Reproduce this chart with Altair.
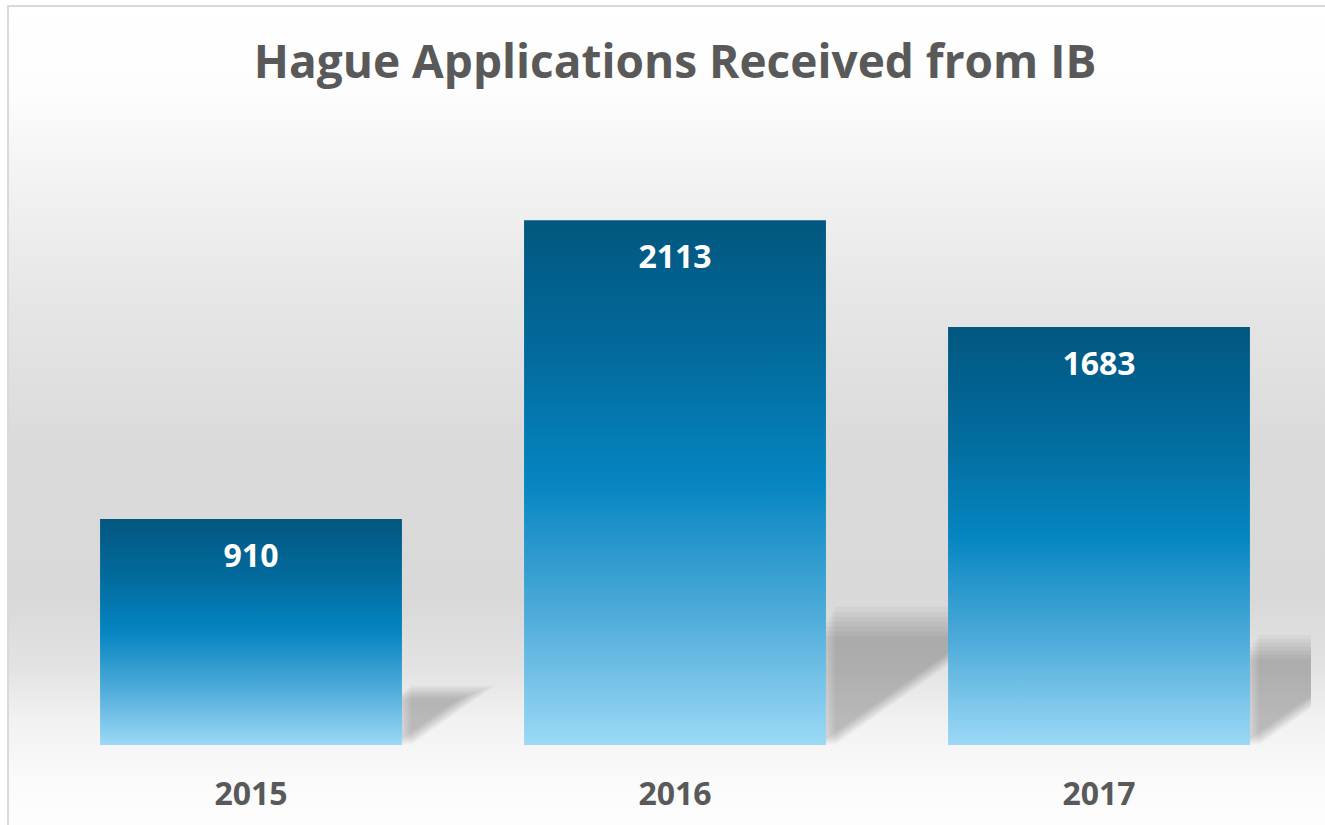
import altair as alt
import pandas as pd

# ---- data ----
years = ["2015", "2016", "2017"]
applications = [910, 2113, 1683]
title_text = "Hague Applications Received from IB"

# ---- layout constants ----
W, H = 1272, 621
YMAX = 2500
BAR_FRAC = 0.712          # bar width as a fraction of each category slot
FONT = "Open Sans"
GREY = "#595959"

bars_df = pd.DataFrame({"year": years, "apps": applications, "idx": list(range(len(years)))})

# perspective shadow geometry, derived from each bar's value (layers soften the edge)
SH = 0.235      # shadow height as a fraction of bar height
SKEW = 1.42     # horizontal run per vertical px
BLUR_K = [0.88, 0.92, 0.96, 1.0, 1.04, 1.08, 1.12]
step_px = W / len(years)
px_per_unit = H / YMAX
rows = []
for layer_k, k in enumerate(BLUR_K):
    for i, (yr, v) in enumerate(zip(years, applications)):
        right = i + 0.5 + BAR_FRAC / 2 + (k - 1) * 70 / step_px
        s = SH * v * k
        d = SKEW * SH * v * px_per_unit / step_px * k
        grp = f"{yr}_{layer_k}"
        rows.append({"grp": grp, "x": right, "lo": 0.0, "hi": s})
        rows.append({"grp": grp, "x": right + d, "lo": s, "hi": s})
shadow_df = pd.DataFrame(rows)

xscale = alt.Scale(domain=[0, len(years)], nice=False, zero=False)
yscale = alt.Scale(domain=[0, YMAX], nice=False, zero=True)

bg_grad = alt.Gradient(
    gradient="linear", x1=0, x2=0, y1=0, y2=1,
    stops=[
        alt.GradientStop(offset=0.0, color="#ffffff"),
        alt.GradientStop(offset=0.10, color="#fdfdfd"),
        alt.GradientStop(offset=0.18, color="#f5f5f5"),
        alt.GradientStop(offset=0.35, color="#e6e6e6"),
        alt.GradientStop(offset=0.53, color="#dadada"),
        alt.GradientStop(offset=0.71, color="#d9d9d9"),
        alt.GradientStop(offset=0.79, color="#e3e3e3"),
        alt.GradientStop(offset=0.85, color="#f1f1f1"),
        alt.GradientStop(offset=0.92, color="#fafafa"),
        alt.GradientStop(offset=1.0, color="#ffffff"),
    ],
)

background = alt.Chart(pd.DataFrame({"a": [0]})).mark_rect(
    fill=bg_grad, stroke="#d9d9d9", strokeWidth=2
).encode(
    x=alt.value(-31), x2=alt.value(1300), y=alt.value(-118), y2=alt.value(720)
)

shadows = alt.Chart(shadow_df).mark_area(
    color="#000000", opacity=0.034, clip=True
).encode(
    x=alt.X("x:Q", scale=xscale, axis=None),
    y=alt.Y("lo:Q", scale=yscale, axis=None),
    y2="hi:Q",
    detail="grp:N",
)

bar_grad = alt.Gradient(
    gradient="linear", x1=0, x2=0, y1=0, y2=1,
    stops=[
        alt.GradientStop(offset=0.0, color="#02577f"),
        alt.GradientStop(offset=0.25, color="#026a9c"),
        alt.GradientStop(offset=0.5, color="#0585c1"),
        alt.GradientStop(offset=0.75, color="#4eabd9"),
        alt.GradientStop(offset=1.0, color="#9cd9f6"),
    ],
)

base = alt.Chart(bars_df).transform_calculate(
    x0=f"datum.idx + 0.5 - {BAR_FRAC / 2}",
    x1=f"datum.idx + 0.5 + {BAR_FRAC / 2}",
    xc="datum.idx + 0.5",
)

bars = base.mark_rect(fill=bar_grad).encode(
    x=alt.X("x0:Q", scale=xscale, axis=None),
    x2="x1:Q",
    y=alt.Y("apps:Q", scale=yscale, axis=None),
    y2=alt.datum(0),
)

value_labels = base.mark_text(
    color="white", font=FONT, fontSize=32, fontWeight="bold",
    baseline="alphabetic", align="center", dy=48,
).encode(
    x=alt.X("xc:Q", scale=xscale, axis=None),
    y=alt.Y("apps:Q", scale=yscale, axis=None),
    text="apps:Q",
)

year_labels = base.mark_text(
    color=GREY, font=FONT, fontSize=32, fontWeight="bold",
    baseline="alphabetic", align="center", dy=60,
).encode(
    x=alt.X("xc:Q", scale=xscale, axis=None),
    y=alt.Y("zero:Q", scale=yscale, axis=None),
    text="year:N",
).transform_calculate(zero="0")

title = alt.Chart(pd.DataFrame({"t": [title_text]})).mark_text(
    color=GREY, font=FONT, fontSize=46, fontWeight="bold",
    baseline="alphabetic", align="center",
).encode(
    x=alt.value(W / 2), y=alt.value(-46), text="t:N"
)

chart = (
    alt.layer(background, shadows, bars, value_labels, year_labels, title)
    .properties(
        width=W, height=H,
        autosize=alt.AutoSizeParams(type="none"),
        padding={"left": 39, "top": 124, "right": 14, "bottom": 80},
        background="#ffffff",
    )
    .configure_view(stroke=None)
)

chart.save("out.html", embed_options={"renderer": "svg", "actions": False})
